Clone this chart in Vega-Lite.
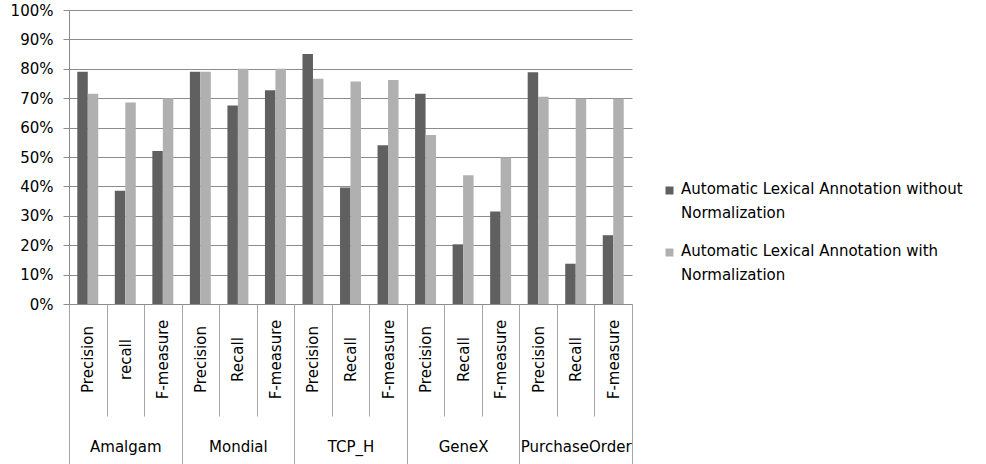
{
  "$schema": "https://vega.github.io/schema/vega-lite/v6.json",
  "width": 563,
  "height": 294,
  "autosize": {"type": "none"},
  "padding": {"left": 69, "top": 10, "right": 354, "bottom": 160},
  "background": "white",
  "config": {"view": {"stroke": null}, "font": "DejaVu Sans"},
  "data": {"values": [
    {"dataset": "Amalgam", "metric": "Precision", "key": "Amalgam|Precision", "series": "Automatic Lexical Annotation without Normalization", "value": 0.79},
    {"dataset": "Amalgam", "metric": "Precision", "key": "Amalgam|Precision", "series": "Automatic Lexical Annotation with Normalization", "value": 0.715},
    {"dataset": "Amalgam", "metric": "recall", "key": "Amalgam|recall", "series": "Automatic Lexical Annotation without Normalization", "value": 0.385},
    {"dataset": "Amalgam", "metric": "recall", "key": "Amalgam|recall", "series": "Automatic Lexical Annotation with Normalization", "value": 0.685},
    {"dataset": "Amalgam", "metric": "F-measure", "key": "Amalgam|F-measure", "series": "Automatic Lexical Annotation without Normalization", "value": 0.52},
    {"dataset": "Amalgam", "metric": "F-measure", "key": "Amalgam|F-measure", "series": "Automatic Lexical Annotation with Normalization", "value": 0.70},
    {"dataset": "Mondial", "metric": "Precision", "key": "Mondial|Precision", "series": "Automatic Lexical Annotation without Normalization", "value": 0.79},
    {"dataset": "Mondial", "metric": "Precision", "key": "Mondial|Precision", "series": "Automatic Lexical Annotation with Normalization", "value": 0.79},
    {"dataset": "Mondial", "metric": "Recall", "key": "Mondial|Recall", "series": "Automatic Lexical Annotation without Normalization", "value": 0.675},
    {"dataset": "Mondial", "metric": "Recall", "key": "Mondial|Recall", "series": "Automatic Lexical Annotation with Normalization", "value": 0.80},
    {"dataset": "Mondial", "metric": "F-measure", "key": "Mondial|F-measure", "series": "Automatic Lexical Annotation without Normalization", "value": 0.727},
    {"dataset": "Mondial", "metric": "F-measure", "key": "Mondial|F-measure", "series": "Automatic Lexical Annotation with Normalization", "value": 0.80},
    {"dataset": "TCP_H", "metric": "Precision", "key": "TCP_H|Precision", "series": "Automatic Lexical Annotation without Normalization", "value": 0.85},
    {"dataset": "TCP_H", "metric": "Precision", "key": "TCP_H|Precision", "series": "Automatic Lexical Annotation with Normalization", "value": 0.766},
    {"dataset": "TCP_H", "metric": "Recall", "key": "TCP_H|Recall", "series": "Automatic Lexical Annotation without Normalization", "value": 0.396},
    {"dataset": "TCP_H", "metric": "Recall", "key": "TCP_H|Recall", "series": "Automatic Lexical Annotation with Normalization", "value": 0.757},
    {"dataset": "TCP_H", "metric": "F-measure", "key": "TCP_H|F-measure", "series": "Automatic Lexical Annotation without Normalization", "value": 0.54},
    {"dataset": "TCP_H", "metric": "F-measure", "key": "TCP_H|F-measure", "series": "Automatic Lexical Annotation with Normalization", "value": 0.762},
    {"dataset": "GeneX", "metric": "Precision", "key": "GeneX|Precision", "series": "Automatic Lexical Annotation without Normalization", "value": 0.715},
    {"dataset": "GeneX", "metric": "Precision", "key": "GeneX|Precision", "series": "Automatic Lexical Annotation with Normalization", "value": 0.575},
    {"dataset": "GeneX", "metric": "Recall", "key": "GeneX|Recall", "series": "Automatic Lexical Annotation without Normalization", "value": 0.203},
    {"dataset": "GeneX", "metric": "Recall", "key": "GeneX|Recall", "series": "Automatic Lexical Annotation with Normalization", "value": 0.438},
    {"dataset": "GeneX", "metric": "F-measure", "key": "GeneX|F-measure", "series": "Automatic Lexical Annotation without Normalization", "value": 0.315},
    {"dataset": "GeneX", "metric": "F-measure", "key": "GeneX|F-measure", "series": "Automatic Lexical Annotation with Normalization", "value": 0.498},
    {"dataset": "PurchaseOrder", "metric": "Precision", "key": "PurchaseOrder|Precision", "series": "Automatic Lexical Annotation without Normalization", "value": 0.788},
    {"dataset": "PurchaseOrder", "metric": "Precision", "key": "PurchaseOrder|Precision", "series": "Automatic Lexical Annotation with Normalization", "value": 0.705},
    {"dataset": "PurchaseOrder", "metric": "Recall", "key": "PurchaseOrder|Recall", "series": "Automatic Lexical Annotation without Normalization", "value": 0.137},
    {"dataset": "PurchaseOrder", "metric": "Recall", "key": "PurchaseOrder|Recall", "series": "Automatic Lexical Annotation with Normalization", "value": 0.698},
    {"dataset": "PurchaseOrder", "metric": "F-measure", "key": "PurchaseOrder|F-measure", "series": "Automatic Lexical Annotation without Normalization", "value": 0.234},
    {"dataset": "PurchaseOrder", "metric": "F-measure", "key": "PurchaseOrder|F-measure", "series": "Automatic Lexical Annotation with Normalization", "value": 0.698}
  ]},
  "layer": [
    {
      "mark": {"type": "bar"},
      "encoding": {
        "x": {
          "field": "key", "type": "nominal", "sort": null,
          "scale": {"paddingInner": 0, "paddingOuter": 0},
          "axis": {
            "orient": "bottom", "title": null,
            "labelExpr": "split(datum.label, '|')[1]",
            "labelAngle": -90, "labelAlign": "center", "labelBaseline": "middle",
            "tickBand": "extent", "tickSize": 112, "labelPadding": -57,
            "domainColor": "#8c8c8c", "tickColor": "#a6a6a6",
            "labelFontSize": 15, "labelColor": "#000000", "grid": false,
            "labelOverlap": false, "labelBound": false, "labelFlush": false, "labelLimit": 0
          }
        },
        "xOffset": {"field": "series", "type": "nominal", "sort": null, "scale": {"paddingInner": 0, "paddingOuter": 0.79}},
        "y": {
          "field": "value", "type": "quantitative",
          "scale": {"domain": [0, 1], "nice": false},
          "axis": {
            "title": null, "format": ".0%",
            "values": [0, 0.1, 0.2, 0.3, 0.4, 0.5, 0.6, 0.7, 0.8, 0.9, 1],
            "tickSize": 6, "labelPadding": 10, "labelFontSize": 15, "labelColor": "#000000",
            "domainColor": "#8c8c8c", "tickColor": "#8c8c8c",
            "gridColor": "#8c8c8c", "gridOpacity": 1, "gridWidth": 1
          }
        },
        "color": {
          "field": "series", "type": "nominal", "sort": null,
          "scale": {"range": ["#606060", "#b0b0b0"]},
          "legend": {
            "orient": "none", "legendX": 593, "legendY": 173, "title": null,
            "padding": 0, "symbolType": "square", "symbolSize": 64, "symbolStrokeWidth": 0,
            "symbolOpacity": 1,
            "labelFontSize": 15, "labelColor": "#000000", "labelLimit": 0, "labelOffset": 4,
            "labelBaseline": "top", "rowPadding": 22,
            "labelExpr": "[slice(datum.label, 0, lastindexof(datum.label, ' ')), 'Normalization']",
            "encode": {"labels": {"update": {"lineHeight": {"value": 24}, "dy": {"value": -9}}}}
          }
        }
      }
    },
    {
      "mark": {"type": "text"},
      "encoding": {
        "x": {
          "field": "dataset", "type": "nominal", "sort": null,
          "scale": {"paddingInner": 0, "paddingOuter": 0},
          "axis": {
            "orient": "bottom", "title": null, "offset": 0,
            "labelAngle": 0, "labelAlign": "center", "labelBaseline": "middle",
            "tickBand": "extent", "tickSize": 160, "labelPadding": -18,
            "domain": false, "tickColor": "#a6a6a6",
            "labelFontSize": 15, "labelColor": "#000000", "grid": false,
            "labelOverlap": false, "labelBound": false, "labelFlush": false, "labelLimit": 0
          }
        }
      }
    }
  ],
  "resolve": {"scale": {"x": "independent", "color": "shared"}, "axis": {"x": "independent"}}
}
